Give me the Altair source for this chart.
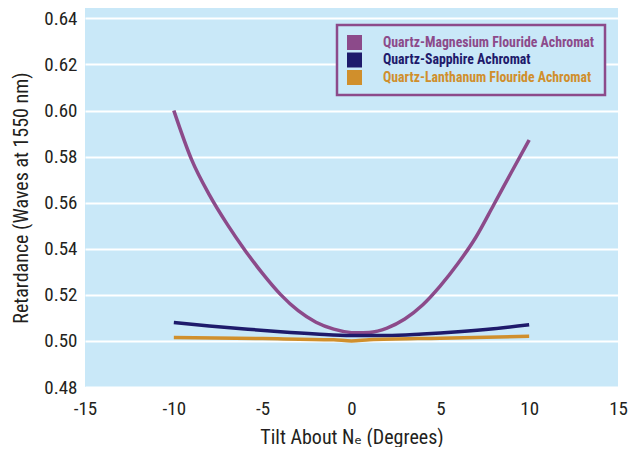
import altair as alt
import pandas as pd

series_names = [
    "Quartz-Magnesium Flouride Achromat",
    "Quartz-Sapphire Achromat",
    "Quartz-Lanthanum Flouride Achromat",
]
series_colors = ["#8C4A8A", "#1E1A6B", "#D08F2C"]

mgf_x = [-10, -9, -8, -7, -6, -5, -4, -3, -2, -1, 0, 0.3, 1, 2, 3, 4, 5, 6, 7, 8, 9, 10]
mgf_y = [0.6000, 0.5787, 0.5634, 0.5507, 0.5394, 0.5292, 0.5202, 0.5131, 0.5081, 0.5051,
         0.5036, 0.5035, 0.5037, 0.5056, 0.5095, 0.5156, 0.5239, 0.5337, 0.5450, 0.5590,
         0.5732, 0.5872]

sap_x = [-10, -8, -6, -4, -2, 0, 2, 4, 6, 8, 10]
sap_y = [0.5080, 0.5065, 0.5052, 0.5040, 0.5030, 0.5023, 0.5023, 0.5030, 0.5040, 0.5053, 0.5070]

lan_x = [-10, -5, -1, 0, 1, 5, 10]
lan_y = [0.5015, 0.5010, 0.5005, 0.5000, 0.5005, 0.5012, 0.5020]

rows = []
for name, xs, ys in zip(series_names, [mgf_x, sap_x, lan_x], [mgf_y, sap_y, lan_y]):
    for x, y in zip(xs, ys):
        rows.append({"series": name, "tilt": x, "ret": y})
df = pd.DataFrame(rows)

x_ticks = [-15, -10, -5, 0, 5, 10, 15]
y_ticks = [0.48, 0.50, 0.52, 0.54, 0.56, 0.58, 0.60, 0.62, 0.64]

font = "'Roboto Condensed', 'DejaVu Sans Condensed', 'Liberation Sans Narrow', Roboto, sans-serif"
series_color_expr = (
    f"datum.value == '{series_names[0]}' ? '{series_colors[0]}' : "
    f"(datum.value == '{series_names[1]}' ? '{series_colors[1]}' : '{series_colors[2]}')"
)

chart = alt.Chart(df).mark_line(strokeWidth=3.5, interpolate="monotone").encode(
    x=alt.X("tilt:Q", scale=alt.Scale(domain=[-15, 15], nice=False),
            axis=alt.Axis(values=x_ticks, title="Tilt About Nₑ (Degrees)", grid=False,
                          domain=False, ticks=False, labelPadding=12, titlePadding=9,
                          labelFlush=False,
                          labelExpr="datum.value < 0 ? '-' + abs(datum.value) : '' + datum.value")),
    y=alt.Y("ret:Q", scale=alt.Scale(domain=[0.48, 0.6445], nice=False, zero=False),
            axis=alt.Axis(values=y_ticks, title="Retardance (Waves at 1550 nm)", grid=True,
                          gridColor="white", gridWidth=2, gridOpacity=1,
                          domain=False, ticks=False, labelPadding=8, titlePadding=12,
                          labelFlush=False, format=".2f")),
    color=alt.Color("series:N",
                    scale=alt.Scale(domain=series_names, range=series_colors),
                    legend=alt.Legend(title=None, orient="none", legendX=252, legendY=17,
                                      symbolType="square", symbolSize=225,
                                      symbolStrokeWidth=0, symbolOpacity=1,
                                      symbolFillColor={"expr": series_color_expr},
                                      labelFont=font, labelFontSize=13.8, labelFontWeight="bold",
                                      labelColor={"expr": series_color_expr},
                                      labelOffset=21, rowPadding=2.5,
                                      strokeColor="#8C4A8A",
                                      padding=10, fillColor="#C9E8F8",
                                      labelLimit=400)),
).properties(
    width=533, height=379, background="white",
    autosize=alt.AutoSizeParams(type="none"),
    padding={"left": 77, "top": 0, "right": 10, "bottom": 60},
).configure_view(
    fill="#C9E8F8", stroke=None,
).configure_axis(
    labelFont=font, labelFontSize=19, labelColor="#231F20",
    titleFont=font, titleFontSize=20, titleColor="#231F20", titleFontWeight="normal",
).configure_legend(
    strokeWidth=2.5,
)

chart.save("out.html", embed_options={"renderer": "svg", "actions": False})
